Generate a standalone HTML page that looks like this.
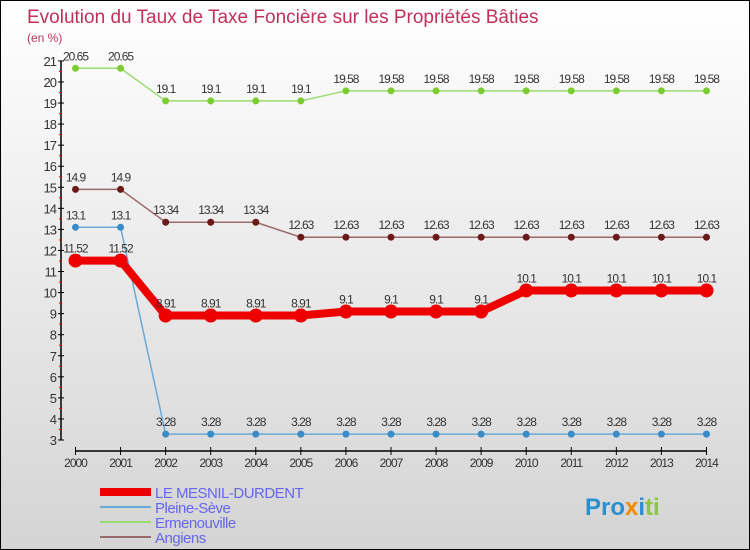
<!DOCTYPE html>
<html><head><meta charset="utf-8"><style>
body{margin:0}
svg{display:block;font-family:"Liberation Sans",sans-serif}
</style></head><body>
<svg width="750" height="550">
<defs><linearGradient id="bg" x1="0" y1="0" x2="0" y2="1"><stop offset="0" stop-color="#ffffff"/><stop offset="1" stop-color="#d4d4d4"/></linearGradient></defs>
<rect x="0.5" y="0.5" width="749" height="549" fill="url(#bg)" stroke="#000"/>
<text x="27" y="23" font-size="19" fill="#c0305a">Evolution du Taux de Taxe Foncière sur les Propriétés Bâties</text>
<text x="27" y="42" font-size="12" fill="#c0305a">(en %)</text>
<g id="axes"></g>
<g id="series"></g>
<g id="legend"></g>
<text x="585" y="515" font-size="24" font-weight="bold"><tspan fill="#2a8fd0">Pro</tspan><tspan fill="#f08a00">x</tspan><tspan fill="#2a8fd0">i</tspan><tspan fill="#8cc63f">ti</tspan></text>
</svg>
<script>
const years=[2000,2001,2002,2003,2004,2005,2006,2007,2008,2009,2010,2011,2012,2013,2014];
const yTicks=[3,4,5,6,7,8,9,10,11,12,13,14,15,16,17,18,19,20,21];
const mesnil=[11.52,11.52,8.91,8.91,8.91,8.91,9.1,9.1,9.1,9.1,10.1,10.1,10.1,10.1,10.1];
const pleine=[13.1,13.1,3.28,3.28,3.28,3.28,3.28,3.28,3.28,3.28,3.28,3.28,3.28,3.28,3.28];
const ermen=[20.65,20.65,19.1,19.1,19.1,19.1,19.58,19.58,19.58,19.58,19.58,19.58,19.58,19.58,19.58];
const angiens=[14.9,14.9,13.34,13.34,13.34,12.63,12.63,12.63,12.63,12.63,12.63,12.63,12.63,12.63,12.63];
const names=["LE MESNIL-DURDENT","Pleine-Sève","Ermenouville","Angiens"];
const NS="http://www.w3.org/2000/svg";
const X=i=>75.5+i*45.07, Y=v=>440-(v-3)*21.06;
function mk(t,a,p){const e=document.createElementNS(NS,t);for(const k in a)e.setAttribute(k,a[k]);p.appendChild(e);return e;}
const ax=document.getElementById('axes');
let l=mk('line',{x1:61,y1:61,x2:61,y2:440,stroke:'#000','stroke-width':1.5},ax);


yTicks.forEach(v=>{const y=Y(v);mk('line',{x1:58,y1:y,x2:64,y2:y,stroke:'#000'},ax);
if(v<21)mk('line',{x1:59,y1:y-10.5,x2:62,y2:y-10.5,stroke:'#e00'},ax);
const t=mk('text',{x:56,y:y+5,'font-size':13,fill:'#333','text-anchor':'end','letter-spacing':'-1'},ax);t.textContent=v;

});
l=mk('line',{x1:75,y1:451,x2:707,y2:451,stroke:'#000','stroke-width':1.5},ax);


years.forEach((yr,i)=>{const x=X(i);mk('line',{x1:x,y1:447,x2:x,y2:455,stroke:'#000'},ax);
const t=mk('text',{x:x,y:467,'font-size':12,fill:'#333','text-anchor':'middle','letter-spacing':'-1'},ax);t.textContent=yr;

});
const sg=document.getElementById('series');
const defs=[[angiens,'#6b1a1a','#9b6a6a',1.5,3.5,'angiens'],[ermen,'#7acc30','#9ada70',1.5,3.5,'ermenouville'],[pleine,'#3a8cc8','#6aaad8',1.5,3.5,'pleine-seve'],[mesnil,'#ee0000','#ee0000',8,7,'le-mesnil-durdent']];
defs.forEach(([d,c,lc,w,r,n])=>{const g=mk('g',{},sg);


mk('polyline',{points:d.map((v,i)=>X(i)+','+Y(v)).join(' '),fill:'none',stroke:lc,'stroke-width':w},g);
d.forEach((v,i)=>{const c1=mk('circle',{cx:X(i),cy:Y(v),r:r,fill:c},g);


const t=mk('text',{x:X(i),y:Y(v)-8,'font-size':12,fill:'#333','text-anchor':'middle','letter-spacing':'-1'},g);t.textContent=v;

});});
const lg=document.getElementById('legend');
const lc=['#ee0000','#6aaad8','#9ada70','#9b6a6a'],lw=[8,2,2,2],ly=[492,507,522,537];
names.forEach((n,i)=>{const g=mk('g',{},lg);


mk('line',{x1:100,y1:ly[i],x2:151,y2:ly[i],stroke:lc[i],'stroke-width':lw[i]},g);
const t=mk('text',{x:155,y:ly[i]+6,'font-size':15,fill:'#6666ee','letter-spacing':'-0.5'},g);t.textContent=n;});
</script>
</body></html>
